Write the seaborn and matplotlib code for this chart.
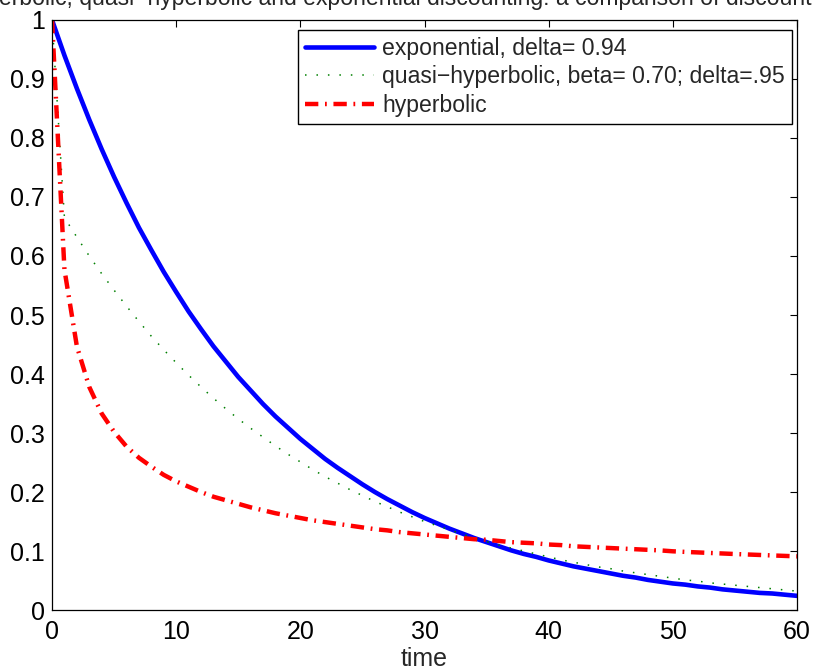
import numpy as np
import pandas as pd
import seaborn as sns
import matplotlib
matplotlib.use('Agg')
import matplotlib.pyplot as plt

# discount factors, one value per time step
time = list(range(0, 61))

exponential = [1.000, 0.940, 0.884, 0.831, 0.781, 0.734, 0.690, 0.648, 0.610, 0.573,
               0.539, 0.506, 0.476, 0.447, 0.421, 0.395, 0.372, 0.349, 0.328, 0.309,
               0.290, 0.273, 0.256, 0.241, 0.227, 0.213, 0.200, 0.188, 0.177, 0.166,
               0.156, 0.147, 0.138, 0.130, 0.122, 0.115, 0.108, 0.101, 0.095, 0.090,
               0.084, 0.079, 0.074, 0.070, 0.066, 0.062, 0.058, 0.055, 0.051, 0.048,
               0.045, 0.043, 0.040, 0.038, 0.035, 0.033, 0.031, 0.029, 0.028, 0.026,
               0.024]

quasi_hyperbolic = [1.000, 0.665, 0.632, 0.600, 0.570, 0.542, 0.515, 0.489, 0.464, 0.441,
                    0.419, 0.398, 0.378, 0.359, 0.341, 0.324, 0.308, 0.293, 0.278, 0.264,
                    0.251, 0.238, 0.226, 0.215, 0.204, 0.194, 0.184, 0.175, 0.166, 0.158,
                    0.150, 0.143, 0.136, 0.129, 0.122, 0.116, 0.110, 0.105, 0.100, 0.095,
                    0.090, 0.085, 0.081, 0.077, 0.073, 0.070, 0.066, 0.063, 0.060, 0.057,
                    0.054, 0.051, 0.049, 0.046, 0.044, 0.042, 0.040, 0.038, 0.036, 0.034,
                    0.032]

hyperbolic = [1.000, 0.577, 0.447, 0.378, 0.333, 0.302, 0.277, 0.258, 0.243, 0.229,
              0.218, 0.209, 0.200, 0.192, 0.186, 0.180, 0.174, 0.169, 0.164, 0.160,
              0.156, 0.152, 0.149, 0.146, 0.143, 0.140, 0.137, 0.135, 0.132, 0.130,
              0.128, 0.126, 0.124, 0.122, 0.120, 0.119, 0.117, 0.115, 0.114, 0.113,
              0.111, 0.110, 0.108, 0.107, 0.106, 0.105, 0.104, 0.103, 0.102, 0.101,
              0.0995, 0.0985, 0.0976, 0.0967, 0.0958, 0.0949, 0.0941, 0.0933, 0.0925, 0.0917,
              0.0909]

labels = ['exponential, delta= 0.94',
          'quasi\u2212hyperbolic, beta= 0.70; delta=.95',
          'hyperbolic']

title = ('Hyperbolic, quasi\u2212hyperbolic and exponential discounting: '
         'a comparison of discount functions')

df = pd.DataFrame({'time': time, 'exp': exponential,
                   'qh': quasi_hyperbolic, 'hyp': hyperbolic})

sns.set_style('white')
plt.rcParams['font.family'] = ['Liberation Sans', 'DejaVu Sans']
plt.rcParams['font.size'] = 18

fig, ax = plt.subplots(figsize=(8.18, 6.71), dpi=100)
fig.subplots_adjust(left=0.0636, right=0.9743, bottom=0.0909, top=0.9702)

sns.lineplot(data=df, x='time', y='exp', ax=ax, color='#0000ff', lw=3.3,
             label=labels[0])
sns.lineplot(data=df, x='time', y='qh', ax=ax, color='#008000', lw=1.1,
             linestyle=(0, (1, 6.5)), label=labels[1])
sns.lineplot(data=df, x='time', y='hyp', ax=ax, color='#ff0000', lw=3.2,
             linestyle=(0, (3.0, 1.5, 0.4, 1.5)), label=labels[2])

ax.set_xlim(0, 60)
ax.set_ylim(0, 1)
ax.set_xticks(range(0, 61, 10))
ax.set_yticks(np.arange(0, 1.01, 0.1))
ax.set_yticklabels(['0', '0.1', '0.2', '0.3', '0.4', '0.5', '0.6', '0.7', '0.8', '0.9', '1'])
ax.tick_params(direction='in', length=5, width=0.8, top=True, right=True,
               labelsize=18, colors='black')
ax.tick_params(axis='x', pad=7)
ax.tick_params(axis='y', pad=5)
for sp in ax.spines.values():
    sp.set_color('black')
    sp.set_linewidth(0.9)

ax.set_xlabel('time', fontsize=18, labelpad=2.5)
ax.set_ylabel('')
# title runs past both edges of the figure, as in the original
ax.text(-0.1265, 1.025, title, transform=ax.transAxes, ha='left', va='baseline',
        fontsize=16.6, clip_on=False)

leg = ax.legend(loc='upper right', bbox_to_anchor=(0.9933, 0.983), borderaxespad=0,
                fontsize=16.6, frameon=True, fancybox=False, edgecolor='black',
                framealpha=1, handlelength=3.0, handletextpad=0.35,
                labelspacing=0.24, borderpad=0.3)
leg.get_frame().set_linewidth(1.0)

plt.savefig('out.png', dpi=100)
